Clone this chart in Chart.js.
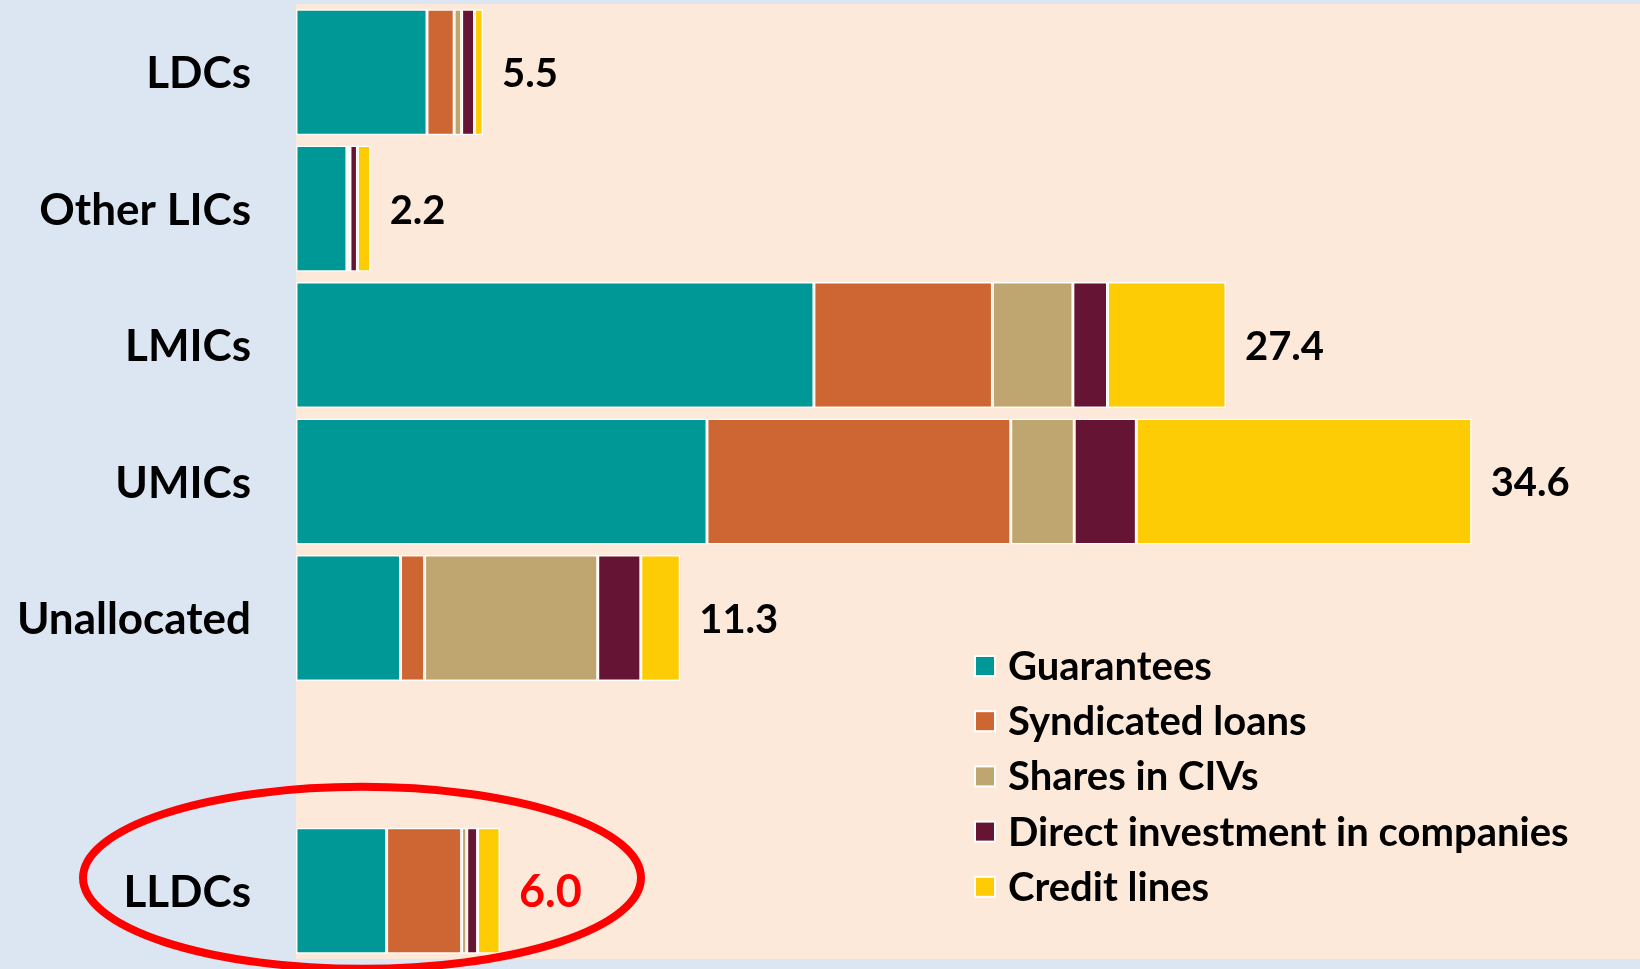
<!DOCTYPE html>
<html>
<head>
<meta charset="utf-8">
<script src="https://cdn.jsdelivr.net/npm/chart.js@4"></script>
<style>
  html, body { margin: 0; padding: 0; background: #DCE6F2; }
  #wrap { width: 1640px; height: 969px; position: relative; }
</style>
</head>
<body>
<div id="wrap"><canvas id="chart"></canvas></div>
<script>
// categories (the blank one is the spacer row above LLDCs)
const categories = ['LDCs', 'Other LICs', 'LMICs', 'UMICs', 'Unallocated', '', 'LLDCs'];

// USD billion
const guarantees = [3.86, 1.50, 15.26, 12.11, 3.08, null, 2.67];
const syndicatedLoans = [0.80, 0.06, 5.26, 8.95, 0.71, null, 2.21];
const sharesInCIVs = [0.22, 0.03, 2.37, 1.87, 5.10, null, 0.15];
const directInvestment = [0.38, 0.22, 1.02, 1.83, 1.27, null, 0.32];
const creditLines = [0.25, 0.39, 3.49, 9.88, 1.16, null, 0.66];

const totals = ['5.5', '2.2', '27.4', '34.6', '11.3', '', '6.0'];
const highlightCategory = 'LLDCs';

const fontFamily = 'Lato, "Open Sans", sans-serif';

function makeSet(label, data, color) {
    return {
        label: label,
        data: data,
        backgroundColor: color,
        borderColor: '#FFFFFF',
        borderWidth: 1.5,
        borderSkipped: false,
        barPercentage: 0.924,
        categoryPercentage: 1.0
    };
}

const datasets = [
    makeSet('Guarantees', guarantees, '#009896'),
    makeSet('Syndicated loans', syndicatedLoans, '#CE6633'),
    makeSet('Shares in CIVs', sharesInCIVs, '#BFA56F'),
    makeSet('Direct investment in companies', directInvestment, '#651533'),
    makeSet('Credit lines', creditLines, '#FDCC05')
];

// peach plot background
const plotBackground = {
    id: 'plotBackground',
    beforeDraw(chart) {
        const { ctx, chartArea } = chart;
        ctx.save();
        ctx.fillStyle = '#FDE9DA';
        ctx.fillRect(chartArea.left, chartArea.top, chartArea.right - chartArea.left, chartArea.bottom - chartArea.top);
        ctx.restore();
    }
};

// totals at the end of each bar
const totalLabels = {
    id: 'totalLabels',
    afterDatasetsDraw(chart) {
        const ctx = chart.ctx;
        const lastMeta = chart.getDatasetMeta(chart.data.datasets.length - 1);
        ctx.save();
        ctx.textAlign = 'left';
        ctx.textBaseline = 'middle';
        lastMeta.data.forEach((bar, i) => {
            if (!totals[i]) return;
            const hot = categories[i] === highlightCategory;
            ctx.font = 'bold ' + (hot ? 45 : 40) + 'px ' + fontFamily;
            ctx.fillStyle = hot ? '#FF0000' : '#000000';
            ctx.fillText(totals[i], bar.x + 19, bar.y + 2);
        });
        ctx.restore();
    }
};

// legend drawn inside the plot, lower right
const insideLegend = {
    id: 'insideLegend',
    afterDraw(chart) {
        const ctx = chart.ctx;
        const x0 = 975;
        const y0 = 666;
        const step = 55.2;
        ctx.save();
        ctx.font = 'bold 40px ' + fontFamily;
        ctx.textAlign = 'left';
        ctx.textBaseline = 'middle';
        chart.data.datasets.forEach((ds, i) => {
            const cy = y0 + i * step;
            ctx.fillStyle = '#FFFFFF';
            ctx.fillRect(x0 - 1, cy - 11, 22, 22);
            ctx.fillStyle = ds.backgroundColor;
            ctx.fillRect(x0 + 1, cy - 9, 18, 18);
            ctx.fillStyle = '#000000';
            ctx.fillText(ds.label, x0 + 33, cy + 1);
        });
        ctx.restore();
    }
};

// red ring around the highlighted row
const highlightRing = {
    id: 'highlightRing',
    afterDraw(chart) {
        const ctx = chart.ctx;
        const idx = categories.indexOf(highlightCategory);
        const cy = chart.scales.y.getPixelForValue(idx) - 13;
        const cx = chart.chartArea.left + 66;
        ctx.save();
        ctx.strokeStyle = '#FF0000';
        ctx.lineWidth = 8;
        ctx.beginPath();
        ctx.ellipse(cx, cy, 279, 91, 0, 0, Math.PI * 2);
        ctx.stroke();
        ctx.restore();
    }
};

new Chart(document.getElementById('chart'), {
    type: 'bar',
    data: { labels: categories, datasets },
    plugins: [plotBackground, totalLabels, insideLegend, highlightRing],
    options: {
        indexAxis: 'y',
        responsive: true,
        maintainAspectRatio: false,
        animation: false,
        layout: { padding: { top: 4, bottom: 10, left: 0, right: 0 } },
        plugins: {
            legend: { display: false },
            tooltip: { enabled: false }
        },
        scales: {
            x: {
                stacked: true,
                display: false,
                min: 0,
                max: 39.6
            },
            y: {
                stacked: true,
                grid: { display: false, drawTicks: false },
                border: { display: false },
                afterFit(scale) {
                    scale.width = 296;
                    // keep the label padding from shrinking the plot vertically
                    scale.paddingTop = 0;
                    scale.paddingBottom = 0;
                },
                ticks: {
                    padding: 45,
                    labelOffset: 2,
                    color: '#000000',
                    font: { family: fontFamily, size: 44, weight: 'bold' }
                }
            }
        }
    }
});
</script>
</body>
</html>
